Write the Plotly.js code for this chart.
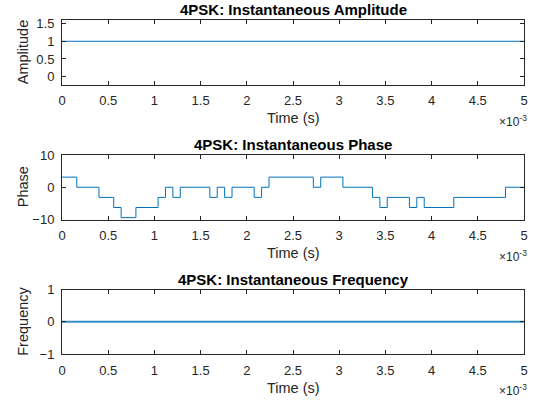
<!DOCTYPE html>
<html>
<head>
<meta charset="utf-8">
<script src="https://cdn.plot.ly/plotly-3.0.1.min.js"></script>
<style>html,body{margin:0;padding:0;background:#fff;}#chart{width:536px;height:405px;}</style>
</head>
<body>
<div id="chart"></div>
<script>
// ---- data ----
const ampTime = [0, 0.005];
const ampValues = [1, 1];

// phase step breakpoints (s) and the phase level held from each breakpoint (rad)
const phaseTime = [0, 0.00016, 0.00040, 0.00056, 0.00064, 0.00080, 0.00104, 0.00112, 0.00120, 0.00128,
  0.00160, 0.00168, 0.00176, 0.00184, 0.00208, 0.00216, 0.00224, 0.00272, 0.00280, 0.00304,
  0.00336, 0.00344, 0.00352, 0.00376, 0.00384, 0.00392, 0.00424, 0.00480, 0.005];
const phaseValues = [3.1416, 0, -3.1416, -6.2832, -9.4248, -6.2832, -3.1416, 0, -3.1416, 0,
  -3.1416, 0, -3.1416, 0, -3.1416, 0, 3.1416, 0, 3.1416, 0,
  -3.1416, -6.2832, -3.1416, -6.2832, -3.1416, -6.2832, -3.1416, 0, 0];

const freqTime = [0, 0.005];
const freqValues = [0, 0];

const xTickVals = [0, 0.0005, 0.001, 0.0015, 0.002, 0.0025, 0.003, 0.0035, 0.004, 0.0045, 0.005];
const xTickText = ['0', '0.5', '1', '1.5', '2', '2.5', '3', '3.5', '4', '4.5', '5'];

const titles = ['4PSK: Instantaneous Amplitude', '4PSK: Instantaneous Phase', '4PSK: Instantaneous Frequency'];
const yTitles = ['Amplitude', 'Phase', 'Frequency'];
const xTitle = 'Time (s)';

// ---- styling ----
const FONT = 'Liberation Sans, Arial, Helvetica, sans-serif';
const AX = '#262626';
const BLUE = '#0072BD';
const W = 536, H = 405;

const traces = [
  {x: ampTime, y: ampValues, xaxis: 'x', yaxis: 'y', mode: 'lines', line: {color: BLUE, width: 1}},
  {x: phaseTime, y: phaseValues, xaxis: 'x2', yaxis: 'y2', mode: 'lines', line: {color: BLUE, width: 1, shape: 'hv'}},
  {x: freqTime, y: freqValues, xaxis: 'x3', yaxis: 'y3', mode: 'lines', line: {color: 'rgba(0,114,189,0.8)', width: 2}}
];

const xd = [62/W, 524/W];
// axes boxes (top, bottom) in pixels
const boxes = [[20, 84.5], [155, 219.5], [289.5, 354]];
const yDomains = boxes.map(b => [1 - b[1]/H, 1 - b[0]/H]);

function xAxis(anchor) {
  return {
    domain: xd, anchor: anchor, range: [0, 0.005],
    tickvals: xTickVals, ticktext: xTickText,
    ticks: 'inside', ticklen: 4, tickwidth: 1, tickcolor: AX,
    showline: true, linecolor: AX, linewidth: 1, mirror: 'ticks',
    showgrid: false, zeroline: false, ticklabelstandoff: 4,
    tickfont: {family: FONT, size: 13, color: AX}
  };
}
function yAxis(anchor, dom, range, tv) {
  return {
    domain: dom, anchor: anchor, range: range,
    tickvals: tv,
    ticks: 'inside', ticklen: 4, tickwidth: 1, tickcolor: AX,
    showline: true, linecolor: AX, linewidth: 1, mirror: 'ticks',
    showgrid: false, zeroline: false, ticklabelstandoff: 4,
    tickfont: {family: FONT, size: 13, color: AX}
  };
}

const annotations = [];
const xc = (xd[0] + xd[1]) / 2;
boxes.forEach((b, i) => {
  // title
  annotations.push({text: '<b>' + titles[i] + '</b>', xref: 'paper', yref: 'paper',
    x: xc, y: 1 - (b[0] - 10.5) / H, xanchor: 'center', yanchor: 'middle',
    showarrow: false, font: {family: FONT, size: 15, color: '#000'}});
  // x title
  annotations.push({text: xTitle, xref: 'paper', yref: 'paper',
    x: xc, y: 1 - (b[1] + 34) / H, xanchor: 'center', yanchor: 'middle',
    showarrow: false, font: {family: FONT, size: 14.5, color: AX}});
  // exponent
  annotations.push({text: '×10<sup>-3</sup>', xref: 'paper', yref: 'paper',
    x: 529/W, y: 1 - (b[1] + 36) / H, xanchor: 'right', yanchor: 'middle',
    showarrow: false, font: {family: FONT, size: 12, color: AX}});
  // y title
  annotations.push({text: yTitles[i], xref: 'paper', yref: 'paper', textangle: -90,
    x: 23/W, y: 1 - ((b[0] + b[1]) / 2) / H, xanchor: 'center', yanchor: 'middle',
    showarrow: false, font: {family: FONT, size: 14.5, color: AX}});
});

const layout = {
  width: W, height: H,
  margin: {l: 0, r: 0, t: 0, b: 0},
  paper_bgcolor: '#fff', plot_bgcolor: '#fff',
  showlegend: false,
  xaxis: xAxis('y'), xaxis2: xAxis('y2'), xaxis3: xAxis('y3'),
  yaxis: yAxis('x', yDomains[0], [-0.22, 1.6], [0, 0.5, 1, 1.5]),
  yaxis2: yAxis('x2', yDomains[1], [-10, 10], [-10, 0, 10]),
  yaxis3: yAxis('x3', yDomains[2], [-1, 1], [-1, 0, 1]),
  annotations: annotations
};

Plotly.newPlot('chart', traces, layout, {staticPlot: true, displayModeBar: false});
</script>
</body>
</html>
